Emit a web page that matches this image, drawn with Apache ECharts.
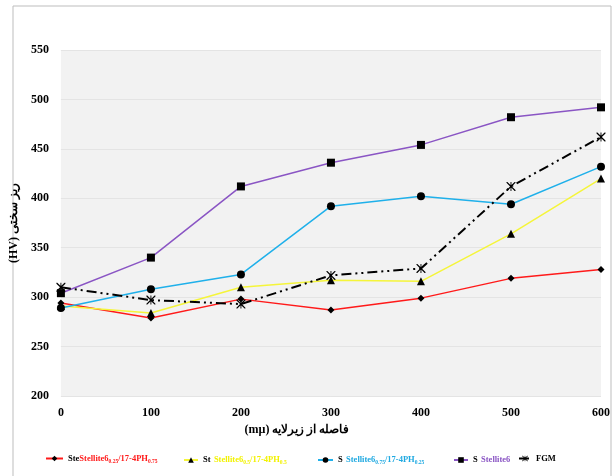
<!DOCTYPE html>
<html>
<head>
<meta charset="utf-8">
<script src="https://cdn.jsdelivr.net/npm/echarts@6/dist/echarts.min.js"></script>
<style>
  html, body { margin: 0; padding: 0; background: #ffffff; }
  #chart { width: 613px; height: 476px; }
</style>
</head>
<body>
<div id="chart"></div>
<script>
// Distance from substrate (µm)
const distances = [0, 100, 200, 300, 400, 500, 600];

// Microhardness (HV) per layer composition
const stellite25 = [294, 279, 298, 287, 299, 319, 328];
const stellite50 = [291, 284, 310, 317, 316, 364, 420];
const stellite75 = [289, 308, 323, 392, 402, 394, 432];
const stellite100 = [304, 340, 412, 436, 454, 482, 492];
const fgm = [310, 297, 293, 322, 329, 412, 462];

const yTicks = [200, 250, 300, 350, 400, 450, 500, 550];

const seriesNames = ['s25', 's50', 's75', 's100', 'fgm'];

const serif = '"Liberation Serif", "DejaVu Serif", serif';

// asterisk-like marker for the FGM curve
const asterisk = 'path://M0,0 L2,0 L10,8 L18,0 L20,0 L20,2 L12,10 L20,18 L20,20 L18,20 L10,12 L2,20 L0,20 L0,18 L8,10 L0,2 Z M9,0 L11,0 L11,20 L9,20 Z';

function pairs(vals) {
  return distances.map((d, i) => [d, vals[i]]);
}

function main(color) {
  return { color: color, fontFamily: serif, fontWeight: 'bold', fontSize: 8.5, lineHeight: 12, verticalAlign: 'middle' };
}
function sub(color) {
  return { color: color, fontFamily: serif, fontWeight: 'bold', fontSize: 5.5, lineHeight: 12, verticalAlign: 'bottom' };
}

const legendRich = {
  k: main('#000'),
  r: main('#ff1a1a'), rs: sub('#ff1a1a'),
  y: main('#f2f200'), ys: sub('#f2f200'),
  b: main('#1fa9e1'), bs: sub('#1fa9e1'),
  p: main('#8a55c4'),
  f: main('#000')
};

const legendText = {
  s25: '{k|Ste}{r|Stellite6}{rs|0.25}{r|/17-4PH}{rs|0.75}',
  s50: '{k|St} {y|Stellite6}{ys|0.5}{y|/17-4PH}{ys|0.5}',
  s75: '{k|S} {b|Stellite6}{bs|0.75}{b|/17-4PH}{bs|0.25}',
  s100: '{k|S} {p|Stellite6}',
  fgm: '{f|FGM}'
};

const legendLeft = [45, 183, 317, 453, 518];
const legendIconW = [17, 14, 15, 14, 12];

const legends = seriesNames.map((n, i) => ({
  data: [n],
  left: legendLeft[i],
  top: 454,
  padding: 0,
  itemWidth: legendIconW[i],
  itemHeight: 7,
  itemGap: 4,
  formatter: (name) => legendText[name],
  textStyle: { rich: legendRich }
}));

const chart = echarts.init(document.getElementById('chart'), null, { renderer: 'canvas' });

chart.setOption({
  backgroundColor: '#ffffff',
  animation: false,
  graphic: [{
    type: 'rect',
    shape: { x: 13, y: 6, width: 598, height: 480 },
    style: { fill: 'none', stroke: '#bdbdbd', lineWidth: 1 },
    silent: true
  }],
  grid: {
    left: 60, right: 12, top: 50, bottom: 80,
    show: true, backgroundColor: '#f2f2f2', borderWidth: 0
  },
  legend: legends,
  xAxis: {
    type: 'value',
    min: 0, max: 600, interval: 100,
    name: '(mµ) فاصله از زیرلایه',
    nameLocation: 'middle',
    nameGap: 27,
    nameTextStyle: { fontFamily: serif, fontWeight: 'bold', fontSize: 12, color: '#000', padding: [0, 68, 0, 0] },
    axisLine: { show: false },
    axisTick: { show: false },
    splitLine: { show: false },
    axisLabel: { fontFamily: serif, fontWeight: 'bold', fontSize: 12, color: '#000', margin: 11 }
  },
  yAxis: {
    type: 'value',
    min: yTicks[0], max: yTicks[yTicks.length - 1], interval: 50,
    name: '(HV) ریز سختی',
    nameLocation: 'middle',
    nameGap: 34,
    nameRotate: 90,
    nameTextStyle: { fontFamily: serif, fontWeight: 'bold', fontSize: 12, color: '#000' },
    axisLine: { show: false },
    axisTick: { show: false },
    splitLine: { show: true, lineStyle: { color: '#e4e4e4', width: 1 } },
    axisLabel: { fontFamily: serif, fontWeight: 'bold', fontSize: 12, color: '#000', margin: 12 }
  },
  series: [
    {
      name: 's25', type: 'line', data: pairs(stellite25),
      lineStyle: { color: '#ff1a1a', width: 1.5 },
      symbol: 'diamond', symbolSize: 7,
      itemStyle: { color: '#000' }, z: 3
    },
    {
      name: 's50', type: 'line', data: pairs(stellite50),
      lineStyle: { color: '#f5f53a', width: 1.5 },
      symbol: 'triangle', symbolSize: 8,
      itemStyle: { color: '#000' }, z: 4
    },
    {
      name: 's75', type: 'line', data: pairs(stellite75),
      lineStyle: { color: '#1fb0ea', width: 1.5 },
      symbol: 'circle', symbolSize: 8,
      itemStyle: { color: '#000' }, z: 5
    },
    {
      name: 's100', type: 'line', data: pairs(stellite100),
      lineStyle: { color: '#8a55c4', width: 1.5 },
      symbol: 'rect', symbolSize: 8,
      itemStyle: { color: '#000' }, z: 6
    },
    {
      name: 'fgm', type: 'line', data: pairs(fgm),
      lineStyle: { color: '#000', width: 2, type: [10, 4, 2, 4, 2, 4] },
      symbol: asterisk, symbolSize: 9,
      itemStyle: { color: '#000' }, z: 7
    }
  ]
});
</script>
</body>
</html>
